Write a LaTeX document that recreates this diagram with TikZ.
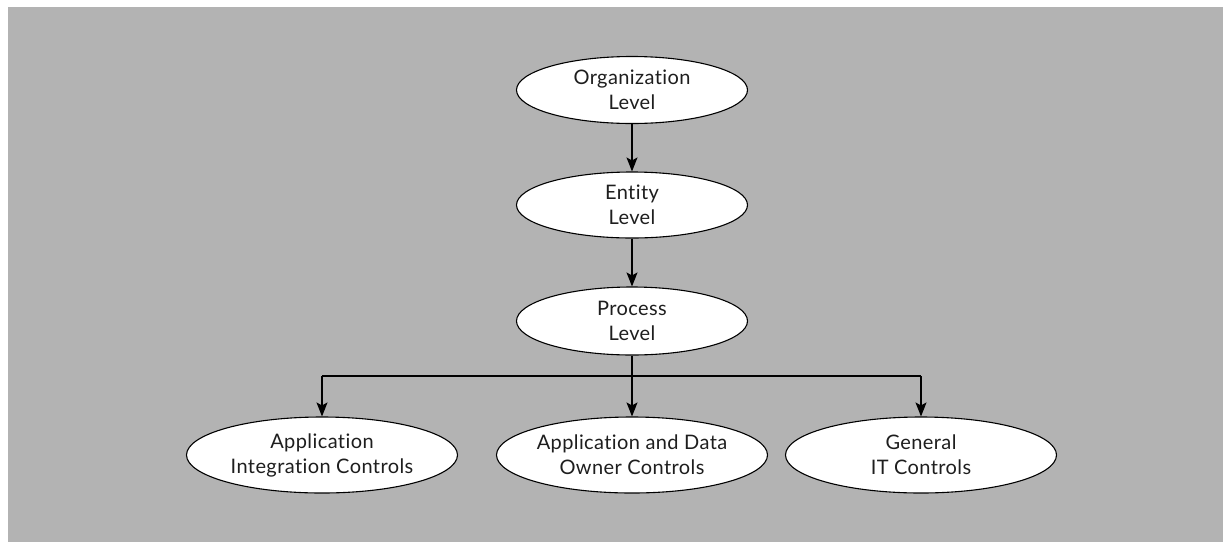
\documentclass[tikz,border=0pt]{standalone}
\usepackage{fontspec}
\setmainfont[Ligatures={NoCommon,NoRequired},LetterSpace=2]{Lato}
\usetikzlibrary{shapes.geometric,arrows.meta}
\definecolor{panel}{RGB}{179,179,179}
\definecolor{ink}{RGB}{30,30,30}
\begin{document}
\begin{tikzpicture}[x=1pt,y=-1pt,
  level/.style={ellipse,draw=black,line width=1.1pt,fill=white,text=ink,
    minimum width=#1,align=center,font=\fontsize{20}{25}\selectfont,inner sep=0pt},
  level/.default=231pt,
  link/.style={line width=1.1pt,-{Stealth[length=14pt,width=11pt,inset=3pt]}},
  wire/.style={line width=1.1pt}]
  \useasboundingbox (0,0) rectangle (1223,542);
  \fill[panel] (8,7) rectangle (1223,542);

  \node[level, minimum height=67pt] (org) at (632,90) {Organization\\Level};
  \node[level, minimum height=66pt] (ent) at (632,205) {Entity\\Level};
  \node[level, minimum height=68pt] (proc) at (632,321) {Process\\Level};

  \node[level=271pt, minimum height=76pt] (aic) at (322,455) {Application\\Integration Controls};
  \node[level=271pt, minimum height=76pt] (ado) at (632,455) {Application and Data\\Owner Controls};
  \node[level=271pt, minimum height=76pt] (gitc) at (921,455) {General\\IT Controls};

  \coordinate (bl) at (322,376);
  \coordinate (br) at (921,376);

  \draw[link] (org) -- (ent);
  \draw[link] (ent) -- (proc);
  \draw[link] (proc) -- (ado);
  \draw[wire] (bl) -- (br);
  \draw[link] (bl) -- (aic);
  \draw[link] (br) -- (gitc);
\end{tikzpicture}
\end{document}
